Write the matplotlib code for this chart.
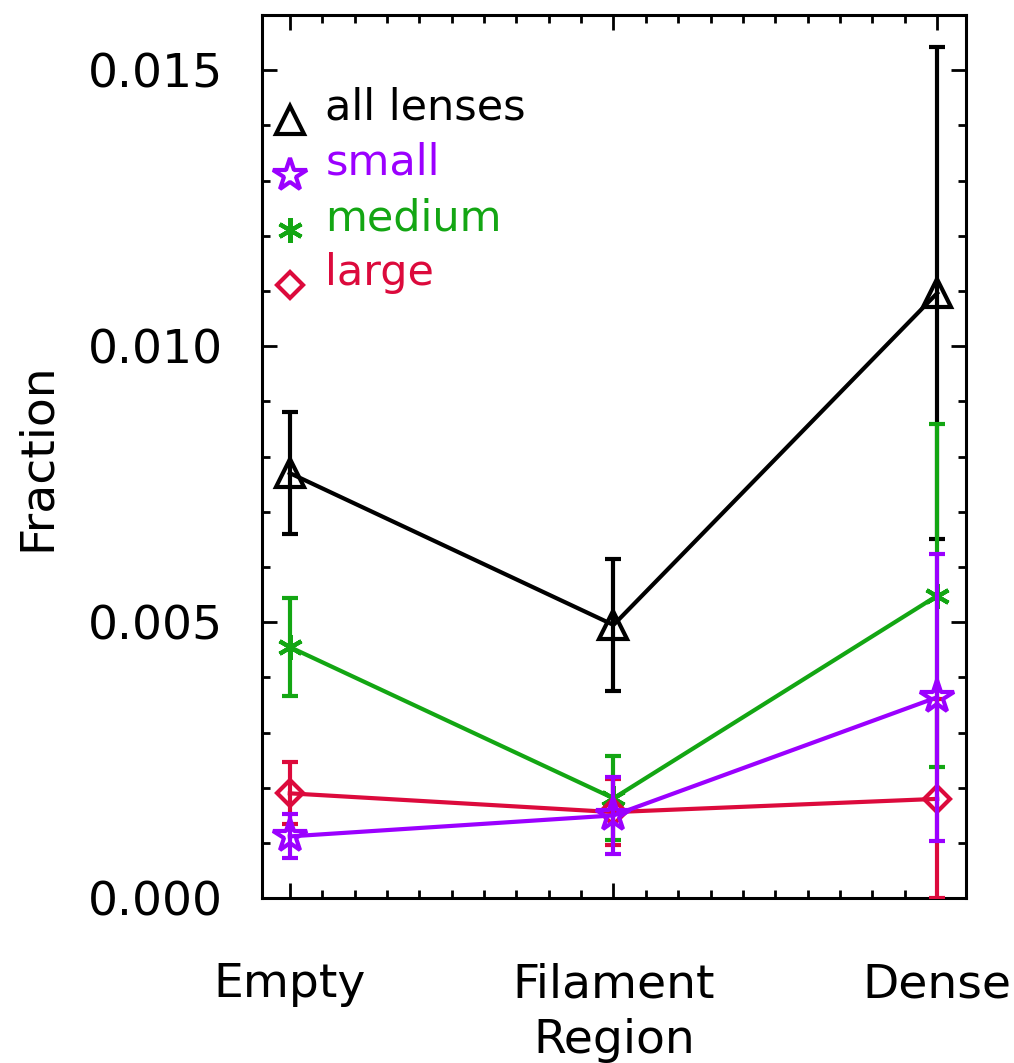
import matplotlib
matplotlib.use("Agg")
import matplotlib.pyplot as plt
from matplotlib.ticker import MultipleLocator, FixedLocator, FormatStrFormatter

regions = ["Empty", "Filament", "Dense"]
xpos = [0, 1, 2]

all_frac = [0.00770, 0.00495, 0.01096]
all_err = [0.00110, 0.00120, 0.00446]
small_frac = [0.00112, 0.00150, 0.00364]
small_err = [0.00040, 0.00069, 0.00260]
medium_frac = [0.00455, 0.00181, 0.00548]
medium_err = [0.00089, 0.00076, 0.00311]
large_frac = [0.00190, 0.00156, 0.00180]
large_err = [0.00056, 0.00060, 0.00180]

labels = ["all lenses", "small", "medium", "large"]
colors = ["black", "#9B00FF", "#13A613", "#DC0A3C"]
markers = ["^", "*", (6, 2, 0), "D"]
msizes = [20, 25, 18, 13]

plt.rcParams["font.family"] = "DejaVu Sans"
fig = plt.figure(figsize=(10.14, 10.63), dpi=100)
ax = fig.add_axes([0.258, 0.155, 0.695, 0.831])

series = {
    "all lenses": (all_frac, all_err),
    "small": (small_frac, small_err),
    "medium": (medium_frac, medium_err),
    "large": (large_frac, large_err),
}

lw = 3.0
# draw in this order so the small-lens bars sit on top
for z, name in enumerate(["all lenses", "medium", "large", "small"]):
    i = labels.index(name)
    y, e = series[name]
    ax.errorbar(xpos, y, yerr=e, color=colors[i], linewidth=lw, elinewidth=lw,
                capsize=6, capthick=lw, marker=markers[i], markersize=msizes[i],
                markerfacecolor="none", markeredgecolor=colors[i],
                markeredgewidth=lw, zorder=2 + z)

ax.set_xlim(-0.087, 2.09)
ax.set_ylim(0, 0.016)
ax.xaxis.set_major_locator(FixedLocator(xpos))
ax.xaxis.set_minor_locator(MultipleLocator(0.1))
ax.set_xticklabels(regions)
ax.yaxis.set_major_locator(MultipleLocator(0.005))
ax.yaxis.set_minor_locator(MultipleLocator(0.001))
ax.yaxis.set_major_formatter(FormatStrFormatter("%.3f"))

ax.tick_params(which="both", direction="in", top=True, right=True,
               width=2, labelsize=34)
ax.tick_params(which="major", length=11)
ax.tick_params(which="minor", length=5.5)
ax.tick_params(axis="x", pad=46)
ax.tick_params(axis="y", pad=28)
for s in ax.spines.values():
    s.set_linewidth(2.2)

ax.set_xlabel("Region", fontsize=34, labelpad=8)
ax.set_ylabel("Fraction", fontsize=34, labelpad=20)

# key in the upper left corner
key_y = [0.0141, 0.0131, 0.0121, 0.0111]
for i in range(4):
    ax.plot([0], [key_y[i]], marker=markers[i], markersize=msizes[i],
            markerfacecolor="none", markeredgecolor=colors[i],
            markeredgewidth=lw, linestyle="none", clip_on=False)
    ax.text(0.11, key_y[i], labels[i], color=colors[i], fontsize=31,
            va="baseline", ha="left")

fig.savefig("out.png", dpi=100)
